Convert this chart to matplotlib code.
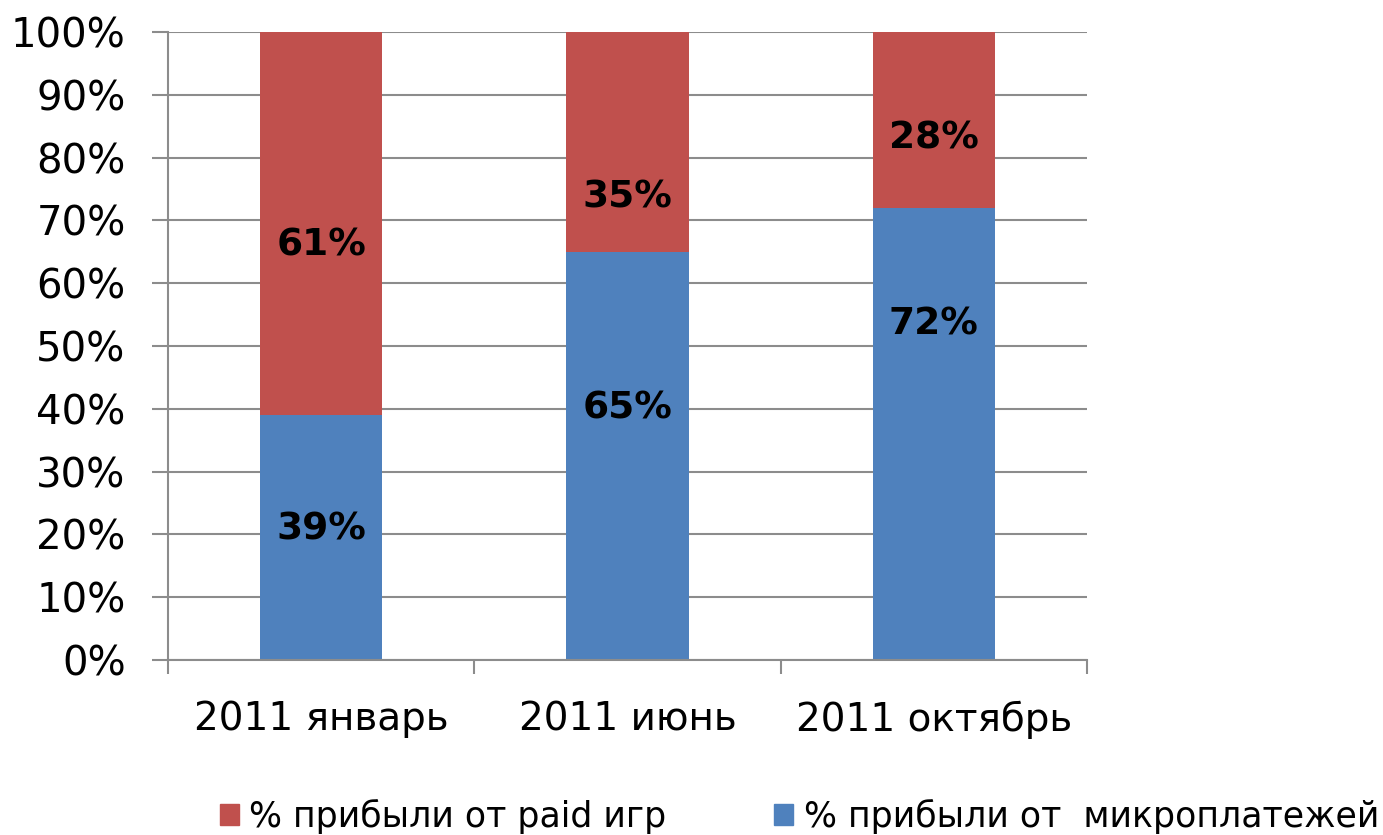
import matplotlib
matplotlib.use("Agg")
import matplotlib.pyplot as plt
import numpy as np
from matplotlib.patches import Patch

plt.rcParams['font.family'] = ['DejaVu Sans']

categories = ["2011 январь", "2011 июнь", "2011 октябрь"]
micro = [39, 65, 72]
paid = [61, 35, 28]
micro_name = "% прибыли от  микроплатежей"
paid_name = "% прибыли от paid игр"

# where the value labels sit (in % of the axis)
micro_label_y = [20.7, 40, 53.5]
paid_label_y = [66, 73.7, 83]

blue = "#4F81BD"
red = "#C0504D"
grid_gray = "#8C8C8C"

fig = plt.figure(figsize=(13.83, 8.35), dpi=100)
ax = fig.add_axes([0.1215, 0.2096, 0.6645, 0.7521])

x = np.arange(len(categories))
ax.bar(x, micro, width=0.4, color=blue, zorder=3)
ax.bar(x, paid, width=0.4, bottom=micro, color=red, zorder=3)

for i in range(len(categories)):
    ax.text(x[i], micro_label_y[i], f"{micro[i]}%", ha="center", va="center",
            fontsize=27, fontweight="bold", color="black", zorder=4)
    ax.text(x[i], paid_label_y[i], f"{paid[i]}%", ha="center", va="center",
            fontsize=27, fontweight="bold", color="black", zorder=4)

ax.set_xlim(-0.5, 2.5)
ax.set_ylim(0, 100)
ax.set_yticks(np.arange(0, 101, 10))
ax.set_yticklabels([f"{v}%" for v in range(0, 101, 10)], fontsize=29)
ax.yaxis.grid(True, color=grid_gray, linewidth=1.5, zorder=0)
ax.tick_params(axis="y", length=11.5, width=1.5, color=grid_gray, pad=19)

ax.set_xticks(x)
ax.set_xticklabels(categories, fontsize=28)
ax.set_xticks([-0.5, 0.5, 1.5, 2.5], minor=True)
ax.tick_params(axis="x", which="major", length=0, pad=29)
ax.tick_params(axis="x", which="minor", length=10, width=1.5, color=grid_gray)

for s in ["top", "right"]:
    ax.spines[s].set_visible(False)
for s in ["left", "bottom"]:
    ax.spines[s].set_color(grid_gray)
    ax.spines[s].set_linewidth(1.5)
ax.spines["bottom"].set_zorder(5)

handles = [Patch(color=red, label=paid_name), Patch(color=blue, label=micro_name)]
fig.legend(handles=handles, loc="center", bbox_to_anchor=(0.578, 0.022), ncol=2,
           frameon=False, fontsize=25, handlelength=0.55, handleheight=0.55,
           handletextpad=0.3, columnspacing=3.1, borderpad=0, borderaxespad=0)

fig.savefig("out.png", dpi=100)
